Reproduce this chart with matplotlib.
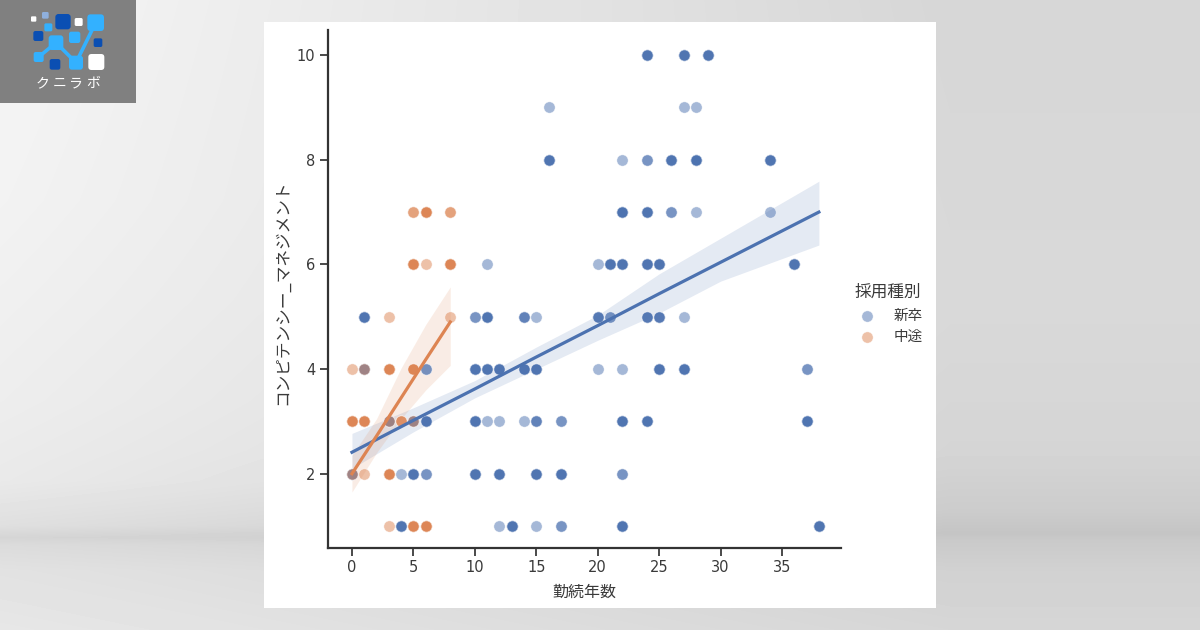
import numpy as np
import matplotlib
matplotlib.use("Agg")
import matplotlib.pyplot as plt
from matplotlib.patches import FancyBboxPatch, Rectangle

plt.rcParams['font.family'] = ['Noto Sans CJK JP', 'DejaVu Sans']

# Each row: y value -> list of (tenure, overplot count)
shinsotsu = {
    10: [(24, 5), (27, 5), (29, 5)],
    9: [(16, 1), (27, 1), (28, 1)],
    8: [(16, 5), (22, 1), (24, 2), (26, 5), (28, 6), (34, 5)],
    7: [(22, 6), (24, 5), (26, 2), (28, 1), (34, 1)],
    6: [(11, 1), (20, 1), (21, 5), (22, 5), (24, 5), (25, 5), (36, 5)],
    5: [(1, 5), (10, 2), (11, 5), (14, 3), (15, 1), (20, 4), (21, 2), (24, 4), (25, 4), (27, 1)],
    4: [(1, 3), (6, 2), (10, 5), (11, 5), (12, 5), (14, 5), (15, 5), (20, 1), (22, 1), (25, 5), (27, 5), (37, 2)],
    3: [(3, 3), (5, 3), (6, 5), (10, 5), (11, 1), (12, 1), (14, 1), (15, 3), (17, 2), (22, 5), (24, 5), (37, 5)],
    2: [(0, 3), (4, 1), (5, 5), (6, 2), (10, 5), (12, 5), (15, 5), (17, 5), (22, 2)],
    1: [(4, 5), (12, 1), (13, 5), (15, 1), (17, 2), (22, 5), (38, 5)],
}
chuto = {
    7: [(5, 2), (6, 5), (8, 2)],
    6: [(5, 5), (6, 1), (8, 5)],
    5: [(3, 1), (8, 1)],
    4: [(0, 1), (1, 1), (3, 5), (5, 5)],
    3: [(0, 5), (1, 5), (3, 1), (4, 3), (5, 1)],
    2: [(0, 1), (1, 1), (3, 5)],
    1: [(3, 1), (5, 5), (6, 5)],
}

# Fit lines and confidence bands
blue_x = [0, 5, 10, 15, 20, 25, 30, 38]
blue_y = [2.41, 3.02, 3.62, 4.23, 4.83, 5.44, 6.04, 7.00]
blue_lo = [2.10, 2.80, 3.45, 4.00, 4.55, 5.07, 5.68, 6.37]
blue_hi = [2.77, 3.26, 3.78, 4.42, 5.03, 5.82, 6.50, 7.59]
orange_x = [0, 2, 4, 6, 8]
orange_y = [2.0, 2.72, 3.45, 4.18, 4.90]
orange_lo = [1.65, 2.40, 3.05, 3.60, 4.07]
orange_hi = [2.35, 3.05, 4.02, 4.85, 5.57]

x_ticks = [0, 5, 10, 15, 20, 25, 30, 35]
y_ticks = [2, 4, 6, 8, 10]
BLUE = '#4c72b0'
ORANGE = '#dd8452'
TEXT = '#3a3a3a'

W, H = 1200, 630
fig = plt.figure(figsize=(12, 6.3), dpi=100)

# Page background
bg = fig.add_axes([0, 0, 1, 1], zorder=0)
bg.set_xlim(0, W)
bg.set_ylim(H, 0)
bg.axis('off')
yy, xx = np.mgrid[0:H, 0:W]
anchor_y_left = [0, 200, 400, 480, 525, 537, 545, 570, 630]
anchor_v_left = [.96, .95, .93, .915, .875, .835, .86, .885, .905]
anchor_y_right = [0, 300, 450, 510, 533, 540, 570, 630]
anchor_v_right = [.84, .85, .835, .80, .77, .79, .82, .84]
left = np.interp(yy, anchor_y_left, anchor_v_left)
right = np.interp(yy, anchor_y_right, anchor_v_right)
frac = np.clip(xx / 950, 0, 1)
shade = left + (right - left) * frac
bg.imshow(shade, cmap='gray', vmin=0, vmax=1, extent=(0, W, H, 0), aspect='auto')
bg.add_patch(Rectangle((264, 22), 672, 586, fc='white', ec='none', zorder=2))

# Logo
bg.add_patch(Rectangle((0, 0), 136, 103, fc='#808080', ec='none', zorder=2))
LIGHT, DARK, PALE = '#33b1ff', '#0b4fb3', '#8fb0dd'
link = np.array([(116, 171), (168, 128), (228, 188), (287, 68)]) / 3
bg.plot(link[:, 0], link[:, 1], color=LIGHT, lw=2.6, zorder=3)
logo = [
    (101, 57, 16, 'white'), (136, 46, 20, PALE), (189, 65, 46, DARK), (236, 66, 24, 'white'),
    (287, 68, 50, LIGHT), (145, 82, 24, LIGHT), (115, 108, 30, DARK), (168, 128, 44, LIGHT),
    (224, 112, 34, LIGHT), (294, 128, 26, DARK), (116, 171, 30, LIGHT), (165, 193, 32, DARK),
    (228, 188, 42, LIGHT), (289, 186, 48, 'white'),
]
for cx, cy, s, c in logo:
    cx, cy, s = cx / 3, cy / 3, s / 3
    r = s * 0.2
    bg.add_patch(FancyBboxPatch((cx - s / 2 + r, cy - s / 2 + r), s - 2 * r, s - 2 * r,
                                boxstyle=f'round,pad={r}', fc=c, ec='none', zorder=4))
for px, ch in zip([43, 60, 76, 93], 'クニラボ'):
    bg.text(px, 83, ch, color='white', fontsize=10, ha='center', va='center', zorder=4)

# Chart
ax = fig.add_axes([328 / W, 1 - 548 / H, (841 - 328) / W, (548 - 30) / H], zorder=2)
ax.patch.set_alpha(0)


def draw(rows, color, label):
    xs, ys = [], []
    for y, items in rows.items():
        for x, n in items:
            xs += [x] * n
            ys += [y] * n
    return ax.scatter(xs, ys, s=66, color=color, alpha=0.5, linewidths=0.5,
                      edgecolors='white', label=label, zorder=3)


h1 = draw(shinsotsu, BLUE, '新卒')
h2 = draw(chuto, ORANGE, '中途')
ax.fill_between(blue_x, blue_lo, blue_hi, color=BLUE, alpha=0.15, lw=0, zorder=2)
ax.plot(blue_x, blue_y, color=BLUE, lw=2.3, zorder=4)
ax.fill_between(orange_x, orange_lo, orange_hi, color=ORANGE, alpha=0.15, lw=0, zorder=2)
ax.plot(orange_x, orange_y, color=ORANGE, lw=2.3, zorder=4)

ax.set_xlim(-1.95, 39.8)
ax.set_ylim(0.58, 10.48)
ax.set_xticks(x_ticks)
ax.set_yticks(y_ticks)
ax.tick_params(labelcolor=TEXT, color='#333333', length=6, width=1.25, pad=3)
for lab in ax.get_xticklabels() + ax.get_yticklabels():
    lab.set_family('DejaVu Sans')
    lab.set_fontsize(10.5)
ax.set_xlabel('勤続年数', fontsize=11.5, color=TEXT, labelpad=6)
ax.set_ylabel('コンピテンシー_マネジメント', fontsize=12, color=TEXT)
ax.yaxis.set_label_coords((291 - 328) / (841 - 328), (548 - 292) / (548 - 30))
for s in ('top', 'right'):
    ax.spines[s].set_visible(False)
for s in ('left', 'bottom'):
    ax.spines[s].set_linewidth(1.6)
    ax.spines[s].set_color('#333333')

leg = fig.legend(handles=[h1, h2], title='採用種別', frameon=False, loc='center left',
                 bbox_to_anchor=(839 / W, 1 - 314 / H), fontsize=10.5, title_fontsize=12,
                 handletextpad=0.85, labelspacing=0.5, labelcolor=TEXT)
leg.get_title().set_color(TEXT)
fig.savefig('out.png', dpi=100)
